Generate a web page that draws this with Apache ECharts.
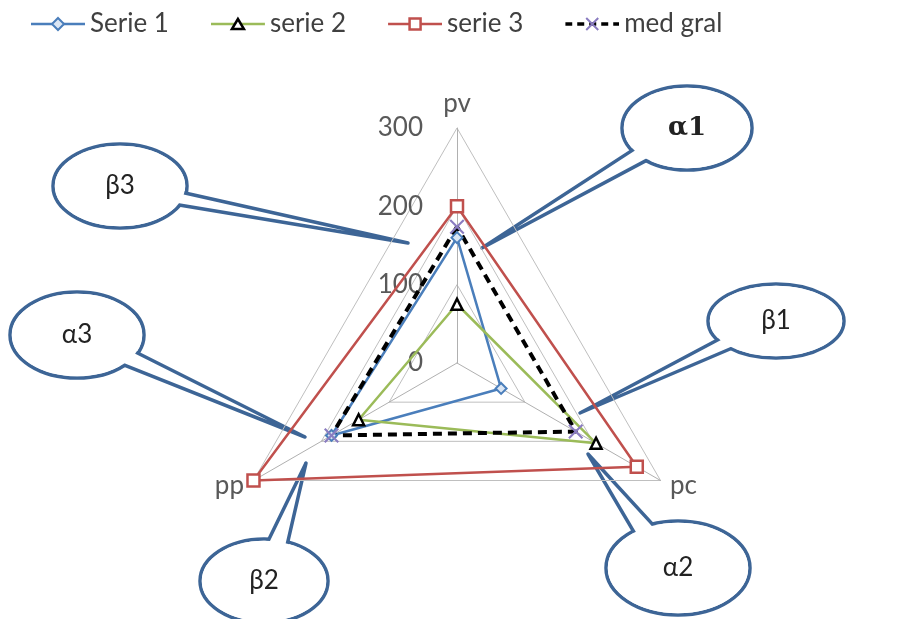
<!DOCTYPE html>
<html>
<head>
    <meta charset="utf-8">
    <title>Radar pv pc pp</title>
    <script src="https://cdn.jsdelivr.net/npm/echarts@6/dist/echarts.min.js"></script>
</head>
<body style="margin:0;background:#fff">
    <div id="main" style="width:906px;height:619px;"></div>
    <script type="text/javascript">

    // axes in echarts order (top, lower left, lower right)
    var indicators = ['pv', 'pp', 'pc'];
    var axisMax = 300;

    var names = ['Serie 1', 'serie 2', 'serie 3', 'med gral'];
    var serie1 = [160, 185, 65];
    var serie2 = [75, 145, 205];
    var serie3 = [200, 300, 265];
    var medGral = [174, 185, 175];

    // callout bubbles (annotations, not data)
    var callouts = [
        {text: 'α1', cx: 687, cy: 128, rx: 65, ry: 42, base: [[633, 148], [650, 160]], tip: [482, 248], serif: true},
        {text: 'β1', cx: 776, cy: 321, rx: 68, ry: 37, base: [[718, 338], [735, 348]], tip: [580, 413]},
        {text: 'α2', cx: 678, cy: 568, rx: 72, ry: 47, base: [[632, 534], [657, 527]], tip: [588, 454]},
        {text: 'β2', cx: 264, cy: 581, rx: 64, ry: 42, base: [[266, 541], [290, 541]], tip: [306, 463]},
        {text: 'α3', cx: 77, cy: 335, rx: 67, ry: 43, base: [[135, 350], [123, 366]], tip: [305, 437]},
        {text: 'β3', cx: 120, cy: 186, rx: 67, ry: 42, base: [[185, 192], [177, 206]], tip: [408, 243]}
    ];

    var font = 'Lato, "Open Sans", sans-serif';
    var calloutColor = '#3d6596';
    var xPath = 'path://M0,2L2,0L10,8L18,0L20,2L12,10L20,18L18,20L10,12L2,20L0,18L8,10Z';

    function svgIcon(lineColor, dash, marker) {
        var s = '<svg xmlns="http://www.w3.org/2000/svg" width="54" height="16">';
        s += '<line x1="0" y1="8" x2="54" y2="8" stroke="' + lineColor + '" stroke-width="' + (dash ? 3.5 : 2.5) + '"' +
            (dash ? ' stroke-dasharray="7,5"' : '') + '/>';
        s += marker + '</svg>';
        return 'image://data:image/svg+xml;charset=utf-8,' + encodeURIComponent(s);
    }

    var icons = [
        svgIcon('#4a7ebb', false, '<polygon points="27,2 33,8 27,14 21,8" fill="#dbe6f4" stroke="#4a7ebb" stroke-width="2"/>'),
        svgIcon('#9bbb59', false, '<polygon points="27,3 33,13 21,13" fill="#fff" stroke="#000" stroke-width="2.5"/>'),
        svgIcon('#c0504d', false, '<rect x="21.5" y="2.5" width="11" height="11" fill="#fff" stroke="#c0504d" stroke-width="2.5"/>'),
        svgIcon('#000', true, '<path d="M21,2L33,14M33,2L21,14" stroke="#8a7cc0" stroke-width="2"/>')
    ];

    var myChart = echarts.init(document.getElementById('main'));

    var graphics = [];
    callouts.forEach(function (c) {
        // pull the tail base a bit inside the ellipse
        var base = c.base.map(function (p) {
            return [p[0] + (c.cx - p[0]) * 0.12, p[1] + (c.cy - p[1]) * 0.12];
        });
        graphics.push({
            type: 'group', z: 100,
            children: [
                {type: 'ellipse', shape: {cx: c.cx, cy: c.cy, rx: c.rx, ry: c.ry},
                    style: {fill: '#fff', stroke: calloutColor, lineWidth: 3.5}},
                {type: 'polygon', shape: {points: [base[0], c.tip, base[1]]},
                    style: {fill: '#fff', stroke: calloutColor, lineWidth: 3.5, lineJoin: 'round'}},
                {type: 'ellipse', shape: {cx: c.cx, cy: c.cy, rx: c.rx - 1.8, ry: c.ry - 1.8},
                    style: {fill: '#fff'}},
                {type: 'text', x: c.cx, y: c.cy,
                    style: {text: c.text, fill: '#222', align: 'center', verticalAlign: 'middle',
                        fontSize: c.serif ? 26 : 26,
                        fontWeight: c.serif ? 'bold' : 'normal',
                        fontFamily: c.serif ? '"DejaVu Serif", serif' : font}}
            ]
        });
    });

    var option = {
        animation: false,
        backgroundColor: '#fff',
        legend: {
            top: 6,
            left: 26,
            itemWidth: 54,
            itemHeight: 16,
            itemGap: 42,
            textStyle: {fontFamily: font, fontSize: 26, color: '#404040'},
            data: names.map(function (n, i) { return {name: n, icon: icons[i]}; })
        },
        radar: {
            center: [457, 363],
            radius: 235,
            startAngle: 90,
            shape: 'polygon',
            splitNumber: 3,
            nameGap: 11,
            indicator: indicators.map(function (n, i) {
                var o = {name: n, min: 0, max: axisMax};
                if (i === 0) o.axisLabel = {show: true, showMinLabel: true};
                return o;
            }),
            axisName: {color: '#595959', fontSize: 26, fontFamily: font},
            axisLine: {lineStyle: {color: '#b0b0b0', width: 1}},
            splitLine: {lineStyle: {color: '#bfbfbf', width: 1}},
            splitArea: {show: false},
            axisTick: {show: false},
            axisLabel: {show: false, color: '#595959', fontSize: 26, fontFamily: font, margin: 34}
        },
        series: [{
            type: 'radar',
            data: [
                {name: names[0], value: serie1, symbol: 'diamond', symbolSize: 11,
                    itemStyle: {color: '#dbe6f4', borderColor: '#4a7ebb', borderWidth: 2},
                    lineStyle: {color: '#4a7ebb', width: 2.5}},
                {name: names[1], value: serie2, symbol: 'triangle', symbolSize: 11,
                    itemStyle: {color: '#fff', borderColor: '#000', borderWidth: 2.5},
                    lineStyle: {color: '#9bbb59', width: 2.5}},
                {name: names[2], value: serie3, symbol: 'rect', symbolSize: 12,
                    itemStyle: {color: '#fff', borderColor: '#c0504d', borderWidth: 2.5},
                    lineStyle: {color: '#c0504d', width: 2.5}},
                {name: names[3], value: medGral, symbol: xPath, symbolSize: 15,
                    itemStyle: {color: '#8a7cc0', borderWidth: 0},
                    lineStyle: {color: '#000', width: 4, type: [9, 6]}}
            ]
        }],
        graphic: graphics
    };

    myChart.setOption(option);
    </script>
</body>
</html>
